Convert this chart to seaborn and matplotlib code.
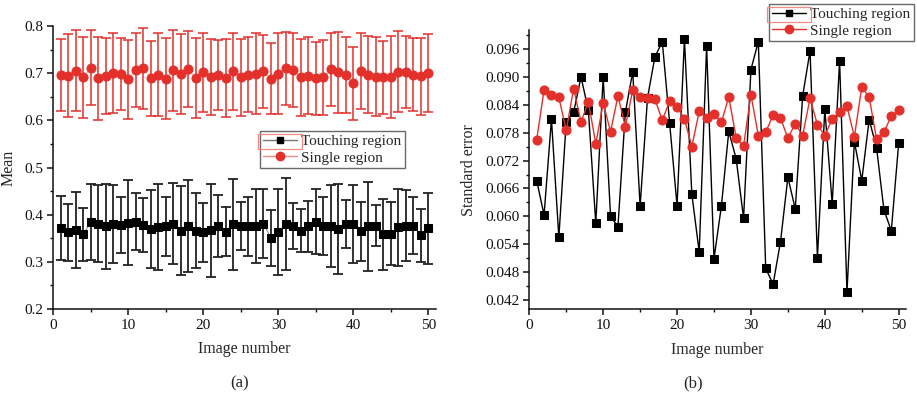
import matplotlib.pyplot as plt
import numpy as np
import pandas as pd
import seaborn as sns
from matplotlib.lines import Line2D
from matplotlib.patches import Rectangle
from matplotlib.ticker import MultipleLocator, FormatStrFormatter

# values
image_number = list(range(1, 51))

touching_mean = [0.371, 0.363, 0.368, 0.358, 0.385, 0.381, 0.375, 0.381, 0.378, 0.383,
                 0.385, 0.378, 0.370, 0.373, 0.375, 0.381, 0.366, 0.376, 0.366, 0.363,
                 0.367, 0.376, 0.364, 0.380, 0.376, 0.375, 0.376, 0.381, 0.351, 0.363,
                 0.380, 0.375, 0.366, 0.375, 0.385, 0.376, 0.376, 0.369, 0.381, 0.380,
                 0.365, 0.375, 0.377, 0.358, 0.360, 0.373, 0.377, 0.377, 0.356, 0.371]

single_mean = [0.696, 0.695, 0.705, 0.691, 0.712, 0.689, 0.694, 0.701, 0.698, 0.687,
               0.706, 0.710, 0.689, 0.697, 0.688, 0.706, 0.698, 0.708, 0.689, 0.702,
               0.692, 0.696, 0.690, 0.704, 0.691, 0.697, 0.699, 0.704, 0.688, 0.699,
               0.710, 0.707, 0.691, 0.695, 0.689, 0.691, 0.708, 0.702, 0.696, 0.679,
               0.704, 0.697, 0.692, 0.691, 0.692, 0.703, 0.702, 0.697, 0.693, 0.701]

touching_se = [0.0677, 0.0603, 0.0809, 0.0555, 0.0804, 0.0824, 0.0900, 0.0828, 0.0585, 0.0900,
               0.0600, 0.0578, 0.0824, 0.0911, 0.0622, 0.0855, 0.0943, 0.0976, 0.0800, 0.0623,
               0.0981, 0.0648, 0.0523, 0.0966, 0.0509, 0.0622, 0.0783, 0.0724, 0.0596, 0.0916,
               0.0976, 0.0488, 0.0454, 0.0545, 0.0684, 0.0616, 0.0859, 0.0956, 0.0511, 0.0831,
               0.0627, 0.0935, 0.0437, 0.0761, 0.0677, 0.0808, 0.0748, 0.0614, 0.0569, 0.0758]

single_se = [0.0765, 0.0872, 0.0862, 0.0856, 0.0785, 0.0875, 0.0803, 0.0846, 0.0756, 0.0844,
             0.0782, 0.0859, 0.0793, 0.0872, 0.0856, 0.0855, 0.0852, 0.0807, 0.0848, 0.0836,
             0.0810, 0.0750, 0.0826, 0.0812, 0.0821, 0.0802, 0.0857, 0.0769, 0.0751, 0.0862,
             0.0774, 0.0781, 0.0818, 0.0811, 0.0769, 0.0799, 0.0774, 0.0854, 0.0797, 0.0774,
             0.0810, 0.0824, 0.0837, 0.0771, 0.0878, 0.0857, 0.0766, 0.0781, 0.0816, 0.0828]

labels = ['Touching region', 'Single region']

RED = '#e3302b'
RED_LIGHT = '#f08a85'

sns.set_style("ticks")
plt.rcParams['font.family'] = ['Liberation Serif', 'DejaVu Serif']
plt.rcParams['axes.linewidth'] = 1.1
plt.rcParams['xtick.major.width'] = 1.1
plt.rcParams['ytick.major.width'] = 1.1
plt.rcParams['xtick.minor.width'] = 1.0
plt.rcParams['ytick.minor.width'] = 1.0

df = pd.DataFrame({'image': image_number,
                   'touch_mean': touching_mean, 'single_mean': single_mean,
                   'touch_se': touching_se, 'single_se': single_se})

fig = plt.figure(figsize=(9.17, 3.96), dpi=100)
ax1 = fig.add_axes([0.0581, 0.2197, 0.4173, 0.7146])
ax2 = fig.add_axes([0.5772, 0.219, 0.4109, 0.704])


def style_axis(ax):
    sns.despine(ax=ax)
    for sp in ax.spines.values():
        sp.set_color('#111')
    ax.tick_params(which='major', direction='out', length=4, labelsize=11, colors='#111', pad=3)
    ax.tick_params(which='minor', direction='out', length=2.5, colors='#111')
    ax.xaxis.set_major_locator(MultipleLocator(10))
    ax.xaxis.set_minor_locator(MultipleLocator(5))
    ax.set_xlim(0, 51)
    ax.set_xlabel('Image number', fontsize=11.5, labelpad=7)


def box_handle(leg, ax):
    # the thin red selection box round the first legend symbol
    fig.canvas.draw()
    rend = fig.canvas.get_renderer()
    hb = leg.legend_handles[0].get_window_extent(rend)
    tb = leg.get_texts()[0].get_window_extent(rend)
    inv = fig.transFigure.inverted()
    (x0, y0), (x1, y1) = inv.transform([(hb.x0 - 2, tb.y0 - 1), (hb.x1 + 2, tb.y1 + 1)])
    fig.add_artist(Rectangle((x0, y0), x1 - x0, y1 - y0, transform=fig.transFigure,
                             fill=False, ec=RED_LIGHT, lw=0.9, zorder=10))


# (a) mean with error bars
ax1.errorbar(df['image'], df['single_mean'], yerr=df['single_se'], fmt='none',
             ecolor=RED, elinewidth=1.3, capsize=3.5, capthick=1.3, alpha=0.85)
sns.lineplot(data=df, x='image', y='single_mean', ax=ax1, color=RED_LIGHT, lw=0.8,
             linestyle=':', marker='o', markersize=6.5, markerfacecolor=RED,
             markeredgecolor=RED, legend=False)
ax1.errorbar(df['image'], df['touch_mean'], yerr=df['touch_se'], fmt='none',
             ecolor='#222', elinewidth=1.3, capsize=3.5, capthick=1.3)
sns.lineplot(data=df, x='image', y='touch_mean', ax=ax1, color='#888', lw=0.7,
             marker='s', markersize=5.5, markerfacecolor='black',
             markeredgecolor='black', legend=False)

style_axis(ax1)
ax1.set_ylim(0.2, 0.8)
ax1.yaxis.set_major_locator(MultipleLocator(0.1))
ax1.yaxis.set_minor_locator(MultipleLocator(0.05))
ax1.yaxis.set_major_formatter(FormatStrFormatter('%.1f'))
ax1.set_ylabel('Mean', fontsize=11.5, labelpad=6)

h1 = [Line2D([], [], color='#777', lw=1.0, marker='s', markersize=5,
             markerfacecolor='black', markeredgecolor='black'),
      Line2D([], [], color=RED_LIGHT, lw=1.0, marker='o', markersize=6,
             markerfacecolor=RED, markeredgecolor=RED)]
leg1 = ax1.legend(h1, labels, loc='lower left', bbox_to_anchor=(0.54, 0.498),
                  fontsize=11, frameon=True, fancybox=False, edgecolor='#444',
                  handlelength=2.2, handletextpad=0.3, borderpad=0.22,
                  labelspacing=0.18, borderaxespad=0)
leg1.get_frame().set_linewidth(1.0)

# (b) standard error
sns.lineplot(data=df, x='image', y='touch_se', ax=ax2, color='black', lw=1.0,
             marker='s', markersize=5.5, markerfacecolor='black',
             markeredgecolor='black', legend=False)
sns.lineplot(data=df, x='image', y='single_se', ax=ax2, color=RED, lw=1.0,
             marker='o', markersize=6.5, markerfacecolor=RED,
             markeredgecolor=RED, legend=False)

style_axis(ax2)
ax2.set_ylim(0.040, 0.100)
ax2.set_yticks(np.arange(0.042, 0.0965, 0.006))
ax2.yaxis.set_minor_locator(MultipleLocator(0.003))
ax2.yaxis.set_major_formatter(FormatStrFormatter('%.3f'))
ax2.set_ylabel('Standard error', fontsize=11.5, labelpad=6)

h2 = [Line2D([], [], color='black', lw=1.0, marker='s', markersize=5,
             markerfacecolor='black', markeredgecolor='black'),
      Line2D([], [], color=RED, lw=1.0, marker='o', markersize=6,
             markerfacecolor=RED, markeredgecolor=RED)]
leg2 = ax2.legend(h2, labels, loc='lower left', bbox_to_anchor=(0.636, 0.962),
                  fontsize=11, frameon=True, fancybox=False, edgecolor='#444',
                  handlelength=2.2, handletextpad=0.3, borderpad=0.22,
                  labelspacing=0.18, borderaxespad=0)
leg2.get_frame().set_linewidth(1.0)

fig.text(240 / 917, 1 - 383 / 396, '(a)', ha='center', va='center', fontsize=12)
fig.text(693 / 917, 1 - 383 / 396, '(b)', ha='center', va='center', fontsize=12)

box_handle(leg1, ax1)
box_handle(leg2, ax2)

fig.savefig('out.png', dpi=100)
plt.close(fig)
